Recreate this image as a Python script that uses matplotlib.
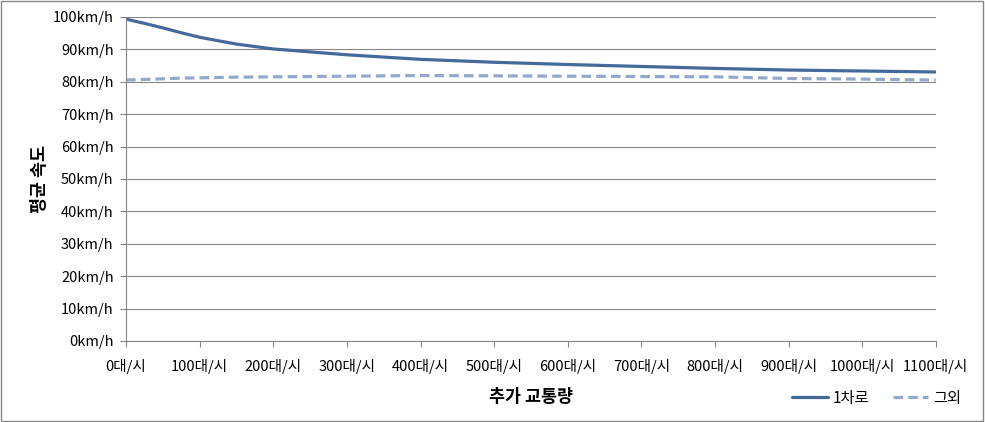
import matplotlib
matplotlib.use("Agg")
import matplotlib.pyplot as plt
from matplotlib.patches import Rectangle

plt.rcParams['font.family'] = ['Noto Sans CJK KR', 'DejaVu Sans']

# 추가 교통량 (대/시)
traffic = [0, 25, 50, 75, 100, 150, 200, 300, 400, 500, 600, 700, 800, 900, 1000, 1100]
# 평균 속도 (km/h)
speed_lane1 = [99.3, 98.0, 96.6, 95.1, 93.7, 91.6, 90.1, 88.3, 86.9, 86.0, 85.3, 84.7, 84.1, 83.6, 83.3, 83.0]
speed_other = [80.5, 80.7, 80.9, 81.1, 81.2, 81.4, 81.5, 81.7, 81.9, 81.8, 81.7, 81.6, 81.5, 81.0, 80.8, 80.5]

xticks = list(range(0, 1101, 100))
yticks = list(range(0, 101, 10))

fig = plt.figure(figsize=(9.85, 4.22), dpi=100)
ax = fig.add_axes([0.128, 0.192, 0.822, 0.768])

ax.plot(traffic, speed_lane1, color='#44699B', lw=2.3, label='1차로', solid_capstyle='round')
ax.plot(traffic, speed_other, color='#93A8CB', lw=2.3, ls=(0, (3, 1.6)), label='그외')

ax.set_xlim(0, 1100)
ax.set_ylim(0, 100)
ax.set_xticks(xticks)
ax.set_xticklabels(['%d대/시' % v for v in xticks], fontsize=10.5)
ax.set_yticks(yticks)
ax.set_yticklabels(['%dkm/h' % v for v in yticks], fontsize=10.5)
ax.tick_params(axis='x', direction='out', length=4, color='#868686', pad=9)
ax.tick_params(axis='y', direction='out', length=4, color='#868686', pad=5)
ax.grid(axis='y', color='#868686', lw=0.8)
ax.set_axisbelow(True)
for s in ['top', 'right']:
    ax.spines[s].set_visible(False)
for s in ['left', 'bottom']:
    ax.spines[s].set_color('#868686')
    ax.spines[s].set_linewidth(0.8)

ax.set_xlabel('추가 교통량', fontsize=12.5, fontweight='bold', labelpad=10)
ax.set_ylabel('평균 속도', fontsize=12.5, fontweight='bold')
ax.yaxis.set_label_coords(-0.095, 0.5)

ax.legend(loc='lower right', bbox_to_anchor=(1.048, -0.245), ncol=2, frameon=False,
          fontsize=11, handlelength=2.3, columnspacing=1.6, handletextpad=0.3)

fig.patches.append(Rectangle((0.001, 0.002), 0.997, 0.996, transform=fig.transFigure,
                             fill=False, edgecolor='#868686', lw=1))

fig.savefig('out.png', dpi=100)
